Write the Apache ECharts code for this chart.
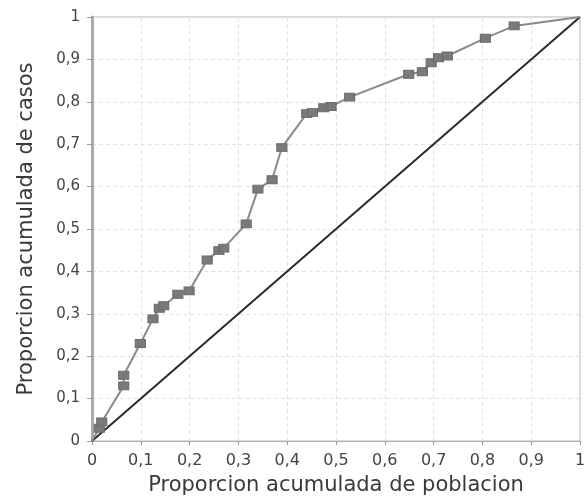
<!DOCTYPE html>
<html>
<head>
<meta charset="utf-8">
<script src="https://cdn.jsdelivr.net/npm/echarts@6/dist/echarts.min.js"></script>
<style>html,body{margin:0;padding:0;background:#fff}#c{width:585px;height:497px}</style>
</head>
<body>
<div id="c"></div>
<script>
const poblacion = [0, 0.015, 0.02, 0.065, 0.065, 0.099, 0.125, 0.138, 0.147, 0.176, 0.199, 0.236, 0.26, 0.27, 0.316, 0.340, 0.369, 0.389, 0.44, 0.452, 0.475, 0.49, 0.528, 0.649, 0.677, 0.695, 0.710, 0.728, 0.806, 0.865, 1];
const casos     = [0, 0.03, 0.045, 0.13, 0.155, 0.23, 0.288, 0.313, 0.319, 0.346, 0.354, 0.427, 0.449, 0.455, 0.512, 0.594, 0.616, 0.692, 0.772, 0.775, 0.786, 0.789, 0.811, 0.865, 0.871, 0.892, 0.904, 0.908, 0.950, 0.979, 1];
const igualdadX = [0, 1];
const igualdadY = [0, 1];
const xName = 'Proporcion acumulada de poblacion';
const yName = 'Proporcion acumulada de casos';

const last = poblacion.length - 1;
const curve = poblacion.map((x, i) => {
  const p = {value: [x, casos[i]]};
  if (i === 0 || i === last) p.symbol = 'none';
  return p;
});
const diag = igualdadX.map((x, i) => [x, igualdadY[i]]);
const fmt = v => String(Math.round(v * 10) / 10).replace('.', ',');
const font = 'DejaVu Sans';

const chart = echarts.init(document.getElementById('c'), null, {renderer: 'canvas'});
chart.setOption({
  animation: false,
  backgroundColor: '#fff',
  grid: {left: 92, right: 5, top: 17, bottom: 56, show: true, borderColor: '#b5b5b5', borderWidth: 1,
         containLabel: false, outerBoundsMode: 'none'},
  xAxis: {
    type: 'value', min: 0, max: 1, interval: 0.1,
    name: xName, nameLocation: 'middle', nameGap: 34,
    nameTextStyle: {fontFamily: font, fontSize: 21, color: '#3a3a3a'},
    axisLine: {show: true, lineStyle: {color: '#b0b0b0', width: 1}},
    axisTick: {show: true, length: 4, lineStyle: {color: '#999'}},
    axisLabel: {formatter: fmt, fontFamily: font, fontSize: 16, color: '#444', margin: 12},
    splitLine: {show: true, lineStyle: {color: '#e2e2e2', type: [4, 3], width: 1}}
  },
  yAxis: {
    type: 'value', min: 0, max: 1, interval: 0.1,
    name: yName, nameLocation: 'middle', nameGap: 55, nameRotate: 90,
    nameTextStyle: {fontFamily: font, fontSize: 21, color: '#3a3a3a'},
    axisLine: {show: true, lineStyle: {color: '#aaaaaa', width: 3}},
    axisTick: {show: true, length: 5, lineStyle: {color: '#999'}},
    axisLabel: {formatter: fmt, fontFamily: font, fontSize: 15, color: '#444', margin: 12},
    splitLine: {show: true, lineStyle: {color: '#e2e2e2', type: [4, 3], width: 1}}
  },
  series: [
    {
      type: 'line', data: diag, symbol: 'none',
      lineStyle: {color: '#2a2a2a', width: 2}, z: 3
    },
    {
      type: 'line', data: curve, symbol: 'rect', symbolSize: [10, 8],
      showSymbol: true,
      lineStyle: {color: '#8a8a8a', width: 2},
      itemStyle: {color: '#7a7a7a', borderColor: '#6a6a6a', borderWidth: 1}, z: 4
    }
  ]
});
</script>
</body>
</html>
